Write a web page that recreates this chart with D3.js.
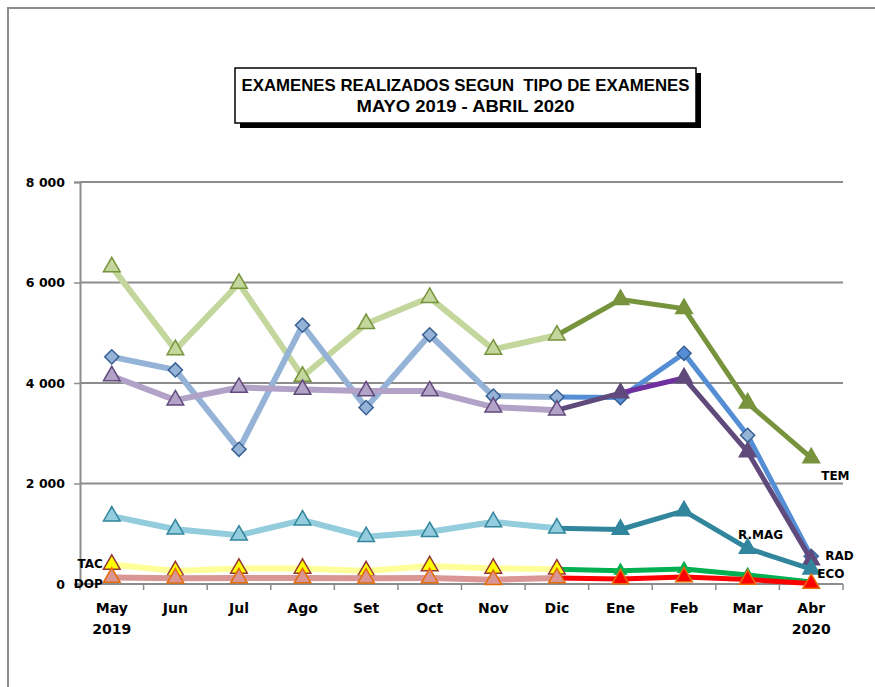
<!DOCTYPE html>
<html>
<head>
<meta charset="utf-8">
<title>Examenes realizados segun tipo de examenes</title>
<script src="https://d3js.org/d3.v7.min.js"></script>
<style>
  body { margin: 0; background: #fff; }
  svg { display: block; }
  .tick-label { font-family: "DejaVu Sans", Verdana, sans-serif; font-weight: bold; fill: #000; }
</style>
</head>
<body>
<div id="chart"></div>
<script>
// months on the x axis
var months = ["May", "Jun", "Jul", "Ago", "Set", "Oct", "Nov", "Dic", "Ene", "Feb", "Mar", "Abr"];
var years = ["2019", "", "", "", "", "", "", "", "", "", "", "2020"];
var yTicks = [0, 2000, 4000, 6000, 8000];

// values, one array per exam type
var tem  = [6310, 4660, 5980, 4130, 5180, 5700, 4670, 4950, 5660, 5480, 3600, 2510];
var rad  = [4520, 4260, 2680, 5150, 3510, 4960, 3740, 3720, 3710, 4590, 2960, 550];
var eco  = [4140, 3660, 3910, 3870, 3840, 3840, 3520, 3460, 3800, 4100, 2630, 480];
var rmag = [1350, 1090, 970, 1270, 940, 1040, 1235, 1110, 1085, 1455, 710, 295];
var tac  = [390, 260, 310, 310, 260, 360, 310, 295, 265, 300, 180, 40];
var dop  = [130, 115, 120, 120, 115, 120, 85, 120, 100, 140, 90, 10];

var series = [
  {name: "TEM", values: tem, shape: "tri", light: "#c3d69b", dark: "#77933c", edge: "#77933c", darkEdge: "#77933c",
   label: {i: 11, dx: 10, dy: 22, anchor: "start"}},
  {name: "RAD", values: rad, shape: "dia", light: "#95b3d7", dark: "#558ed5", edge: "#376092", darkEdge: "#376092",
   label: {i: 11, dx: 14, dy: 4, anchor: "start"}, lightMarks: [10]},
  {name: "ECO", values: eco, shape: "tri", light: "#b3a2c7", dark: "#604a7b", edge: "#604a7b", darkEdge: "#604a7b",
   label: {i: 11, dx: 6, dy: 18, anchor: "start"}, extra: {8: "#7030a0"}},
  {name: "R.MAG", values: rmag, shape: "tri", light: "#93cddd", dark: "#31859c", edge: "#31859c", darkEdge: "#31859c",
   label: {i: 10, dx: 13, dy: -9, anchor: "middle"}},
  {name: "TAC", values: tac, shape: "tri", light: "#ffff99", dark: "#00b050", edge: "#953735", darkEdge: "#00b050",
   markFill: "#ffff00", label: {i: 0, dx: -9, dy: 4, anchor: "end"}, smallDark: true},
  {name: "DOP", values: dop, shape: "tri", light: "#d99694", dark: "#ff0000", edge: "#e46c0a", darkEdge: "#e46c0a",
   label: {i: 0, dx: -9, dy: 11, anchor: "end"}}
];

var W = 875, H = 687;
var plot = {left: 80, right: 843, top: 182, bottom: 584};
var split = 7; // Dic: light lines before, dark after

var svg = d3.select("#chart").append("svg")
  .attr("width", W)
  .attr("height", H);

// outer frame
svg.append("path")
  .attr("d", "M8," + H + "V8H" + W)
  .attr("fill", "none")
  .attr("stroke", "#8c8c8c")
  .attr("stroke-width", 2);

var x = d3.scaleBand()
  .domain(months)
  .range([plot.left, plot.right]);

var y = d3.scaleLinear()
  .domain([0, 8000])
  .range([plot.bottom, plot.top]);

function cx(i) { return x(months[i]) + x.bandwidth() / 2; }

// gridlines
svg.append("g")
  .selectAll("line")
  .data(yTicks.filter(function(d) { return d > 0; }))
  .enter().append("line")
    .attr("x1", plot.left)
    .attr("x2", plot.right)
    .attr("y1", function(d) { return y(d); })
    .attr("y2", function(d) { return y(d); })
    .attr("stroke", "#8c8c8c")
    .attr("stroke-width", 2);

// y axis
var yAxis = svg.append("g")
  .attr("transform", "translate(" + plot.left + ",0)")
  .call(d3.axisLeft(y).tickValues(yTicks).tickSize(6).tickPadding(9)
    .tickFormat(function(d) { return d3.format(",")(d).replace(",", " "); }));
yAxis.select(".domain").attr("stroke", "#8c8c8c").attr("stroke-width", 2);
yAxis.selectAll(".tick line").attr("stroke", "#8c8c8c").attr("stroke-width", 1.5);
yAxis.selectAll(".tick text").attr("class", "tick-label").style("font-size", "12.5px");

// x axis
var xAxis = svg.append("g")
  .attr("transform", "translate(0," + plot.bottom + ")");
xAxis.append("line")
  .attr("x1", plot.left).attr("x2", plot.right)
  .attr("stroke", "#8c8c8c").attr("stroke-width", 2);
xAxis.selectAll(".xtick")
  .data(d3.range(months.length + 1))
  .enter().append("line")
    .attr("class", "xtick")
    .attr("x1", function(i) { return plot.left + i * x.bandwidth(); })
    .attr("x2", function(i) { return plot.left + i * x.bandwidth(); })
    .attr("y1", 0).attr("y2", 6)
    .attr("stroke", "#8c8c8c").attr("stroke-width", 1.5);
xAxis.selectAll(".month")
  .data(months)
  .enter().append("text")
    .attr("class", "tick-label")
    .attr("x", function(d) { return x(d) + x.bandwidth() / 2; })
    .attr("y", 29)
    .attr("text-anchor", "middle")
    .style("font-size", "14px")
    .text(function(d) { return d; });
xAxis.selectAll(".year")
  .data(years)
  .enter().append("text")
    .attr("class", "tick-label")
    .attr("x", function(d, i) { return cx(i); })
    .attr("y", 50)
    .attr("text-anchor", "middle")
    .style("font-size", "14px")
    .text(function(d) { return d; });

// lines and markers
var tri = d3.symbol().type(d3.symbolTriangle).size(120);
var triSmall = d3.symbol().type(d3.symbolTriangle).size(60);
var dia = d3.symbol().type(d3.symbolSquare).size(100);

series.forEach(function(s) {
  var g = svg.append("g");
  for (var i = 0; i < s.values.length - 1; i++) {
    var col = i < split ? s.light : s.dark;
    if (s.extra && s.extra[i]) col = s.extra[i];
    g.append("line")
      .attr("x1", cx(i)).attr("y1", y(s.values[i]))
      .attr("x2", cx(i + 1)).attr("y2", y(s.values[i + 1]))
      .attr("stroke", col)
      .attr("stroke-width", i < split ? 6 : 5)
      .attr("stroke-linecap", "round");
  }
  g.selectAll("path")
    .data(s.values)
    .enter().append("path")
      .attr("d", function(d, i) {
        if (s.shape === "dia") return dia();
        return (s.smallDark && i > split) ? triSmall() : tri();
      })
      .attr("transform", function(d, i) {
        return "translate(" + cx(i) + "," + y(d) + ")" + (s.shape === "dia" ? " rotate(45)" : "");
      })
      .attr("fill", function(d, i) {
        var lightMark = i <= split || (s.lightMarks && s.lightMarks.indexOf(i) >= 0);
        return lightMark ? (s.markFill || s.light) : s.dark;
      })
      .attr("stroke", function(d, i) { return i <= split ? s.edge : s.darkEdge; })
      .attr("stroke-width", 1.5)
      .attr("stroke-linejoin", "miter");
});

// series labels
series.forEach(function(s) {
  var L = s.label;
  svg.append("text")
    .attr("class", "tick-label")
    .attr("x", cx(L.i) + L.dx)
    .attr("y", y(s.values[L.i]) + L.dy)
    .attr("text-anchor", L.anchor)
    .style("font-size", "12px")
    .text(s.name);
});

// title box with shadow
var box = {x: 235, y: 68, w: 461, h: 55};
svg.append("rect")
  .attr("x", box.x + 5).attr("y", box.y + 5)
  .attr("width", box.w).attr("height", box.h)
  .attr("fill", "#000");
svg.append("rect")
  .attr("x", box.x).attr("y", box.y)
  .attr("width", box.w).attr("height", box.h)
  .attr("fill", "#fff")
  .attr("stroke", "#000")
  .attr("stroke-width", 1.5);

var titleLines = [
  {text: "EXAMENES REALIZADOS SEGUN  TIPO DE EXAMENES", y: 91, len: 448},
  {text: "MAYO 2019 - ABRIL 2020", y: 112, len: 218}
];
svg.selectAll(".title")
  .data(titleLines)
  .enter().append("text")
    .attr("class", "title")
    .attr("x", box.x + box.w / 2)
    .attr("y", function(d) { return d.y; })
    .attr("text-anchor", "middle")
    .attr("textLength", function(d) { return d.len; })
    .attr("lengthAdjust", "spacingAndGlyphs")
    .style("font-family", "'Liberation Sans', Arial, sans-serif")
    .style("font-weight", "bold")
    .style("font-size", "16.5px")
    .style("white-space", "pre")
    .text(function(d) { return d.text; });
</script>
</body>
</html>
